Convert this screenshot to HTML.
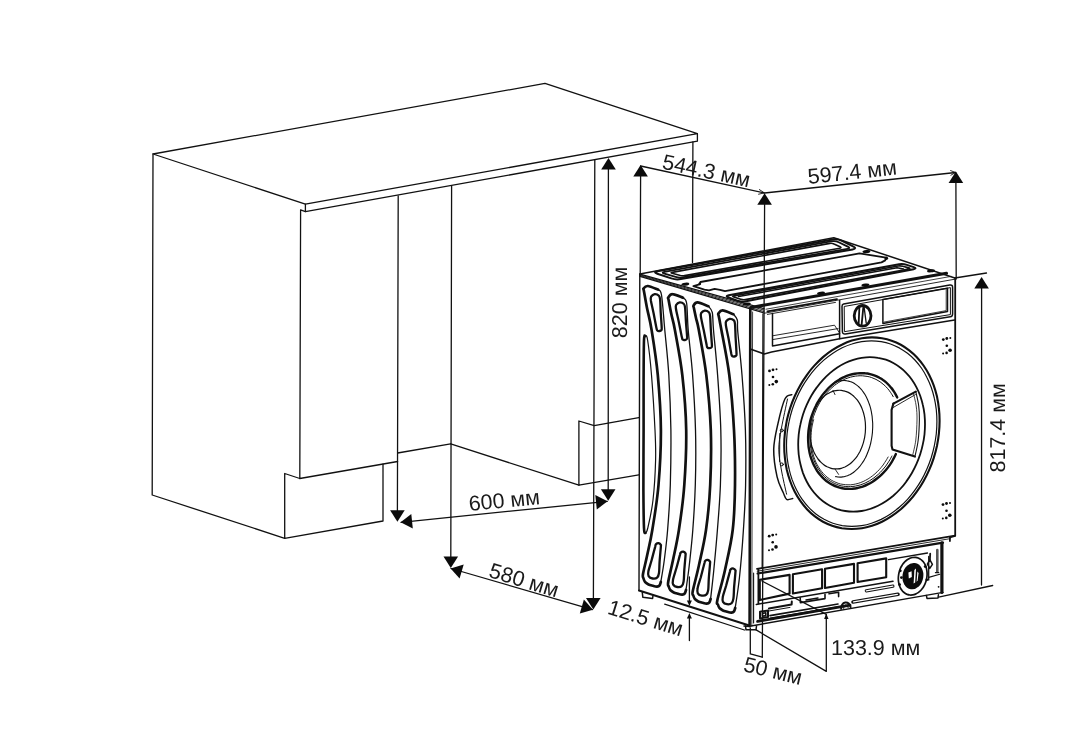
<!DOCTYPE html>
<html lang="ru"><head><meta charset="utf-8"><title>Размеры</title>
<style>
html,body{margin:0;padding:0;background:#fff;}
body{width:1082px;height:752px;overflow:hidden;font-family:"Liberation Sans",sans-serif;}
svg{display:block;filter:grayscale(1);}
svg path,svg ellipse,svg circle{fill:none;stroke:#111;stroke-linecap:round;stroke-linejoin:round;}
svg .fl{fill:#0b0b0e;stroke:none;}
svg .wh{fill:#fff;stroke:none;}
svg text{font-family:"Liberation Sans",sans-serif;fill:#1a1a1a;stroke:none;text-rendering:geometricPrecision;}
</style></head><body>
<svg width="1082" height="752" viewBox="0 0 1082 752">
<rect x="0" y="0" width="1082" height="752" class="wh"/>
<g id="cabinet">
<path d="M153 154 L545 83.4 L697.4 133.7 L305.4 204.1 Z" stroke-width="1.3"/>
<path d="M305.4 204.1 L305.4 211.6 L697.4 141.2 L697.4 133.7" stroke-width="1.3"/>
<path d="M153 154 L152.2 495 L284.7 538.3" stroke-width="1.3"/>
<path d="M299.8 478.5 L284.7 473.5 L284.7 538.3 L383 521 L383 464.2" stroke-width="1.3"/>
<path d="M305.4 211.6 L300.6 209.8 L299.8 478.5 L397.6 461.5" stroke-width="1.3"/>
<path d="M398.2 196 L397.4 511" stroke-width="1.3"/>
<path d="M397.6 453 L450.6 443.9" stroke-width="1.3"/>
<path d="M451.6 186 L450.8 557" stroke-width="1.3"/>
<path d="M450.7 443.9 L578.9 485.2" stroke-width="1.3"/>
<path d="M638.8 417.6 L594.2 425.7 L578.9 421 L578.9 485.2 L638.8 474.9" stroke-width="1.3"/>
<path d="M594.8 160 L593.4 598" stroke-width="1.3"/>
<path d="M608.4 169 L608.2 490" stroke-width="1.3"/>
<path d="M692.9 142 L692.5 262.5" stroke-width="1.3"/>
</g>
<g id="cabdims">
<path d="M608.5 158 L615.8 169.5 L601.2 169.5 Z" class="fl"/>
<path d="M608.2 500.8 L600.9 489.3 L615.5 489.3 Z" class="fl"/>
<path d="M397.4 521.8 L390.1 510.3 L404.7 510.3 Z" class="fl"/>
<path d="M450.8 568 L443.5 556.5 L458.1 556.5 Z" class="fl"/>
<path d="M593.3 609.4 L586 597.9 L600.6 597.9 Z" class="fl"/>
<path d="M401 522.3 L607.3 501.3" stroke-width="1.3"/>
<path d="M400.6 522.3 L411.3 513.9 L412.8 528.4 Z" class="fl"/>
<path d="M607.5 501.2 L596.8 509.6 L595.3 495.1 Z" class="fl"/>
<path d="M451 568.5 L592.4 609.6" stroke-width="1.3"/>
<path d="M450.6 568.4 L463.7 564.6 L459.6 578.6 Z" class="fl"/>
<path d="M592.9 609.8 L579.8 613.6 L583.9 599.6 Z" class="fl"/>
<text x="469.4" y="511" transform="rotate(-5.6 469.4 511)" font-size="21.5" text-anchor="start">600 мм</text>
<text x="487.8" y="576.8" transform="rotate(16.8 487.8 576.8)" font-size="21.5" text-anchor="start">580 мм</text>
<text x="626.9" y="338.2" transform="rotate(-90 626.9 338.2)" font-size="21.5" text-anchor="start">820 мм</text>
</g>
<g id="mdims">
<path d="M640.6 165 L647.9 176.5 L633.3 176.5 Z" class="fl"/>
<path d="M640.6 176 L640.2 276" stroke-width="1.3"/>
<path d="M640.6 166 L764.6 193 L955.7 172.5" stroke-width="1.3"/>
<path d="M764.6 193.3 L771.9 204.8 L757.3 204.8 Z" class="fl"/>
<path d="M759.4 189.6 L764.4 192.9 L758.6 194.2" stroke-width="0.9"/>
<path d="M950.6 170.6 L955.6 172.5 L950.9 175.2" stroke-width="0.9"/>
<path d="M764.6 204 L762.3 657.2" stroke-width="1.3"/>
<path d="M955.9 171.5 L963.2 183 L948.6 183 Z" class="fl"/>
<path d="M955.9 183 L956.2 279" stroke-width="1.3"/>
<path d="M954.8 278 L986.5 273" stroke-width="1.3"/>
<path d="M981.6 277 L988.9 288.5 L974.3 288.5 Z" class="fl"/>
<path d="M981.6 288 L981.5 585" stroke-width="1.3"/>
<path d="M938.6 597.2 L992.7 585.5" stroke-width="1.3"/>
<text x="661.2" y="168.4" transform="rotate(12.2 661.2 168.4)" font-size="21.5" text-anchor="start">544.3 мм</text>
<text x="808.5" y="184" transform="rotate(-6.1 808.5 184)" font-size="21.5" text-anchor="start">597.4 мм</text>
<text x="1004.7" y="472.5" transform="rotate(-90 1004.7 472.5)" font-size="21.5" text-anchor="start">817.4 мм</text>
<path d="M664.7 604.2 L744.4 630" stroke-width="1.3"/>
<path d="M689.4 577 L689.4 602" stroke-width="1.3"/>
<path d="M689.4 617 L689.4 640.5" stroke-width="1.3"/>
<path d="M689.4 606 L686.9 600.5 L691.9 600.5 Z" class="fl"/>
<path d="M689.4 613 L691.9 618.5 L686.9 618.5 Z" class="fl"/>
<text x="606.5" y="613.5" transform="rotate(17.3 606.5 613.5)" font-size="21.5" text-anchor="start">12.5 мм</text>
<path d="M750.3 628 L750.3 653.9 L762.3 657.2" stroke-width="1.3"/>
<text x="742.4" y="671" transform="rotate(13.6 742.4 671)" font-size="21.5" text-anchor="start">50 мм</text>
<path d="M761.9 581 L826.3 614.4" stroke-width="1.3"/>
<path d="M756.1 629.9 L826.3 671.4 L826.3 615" stroke-width="1.3"/>
<path d="M826.3 613.6 L828.5 619.1 L824.1 619.1 Z" class="fl"/>
<text x="831" y="655" transform="rotate(0 831 655)" font-size="21.5" text-anchor="start">133.9 мм</text>
</g>
<g id="machine">
<path d="M639.8 274 L639 590.5" stroke-width="1.4"/>
<path d="M639 590.5 L748.5 625.2" stroke-width="2"/>
<path d="M642.3 592.5 L642.8 597.2 L652.6 598.4 L653 595.5" stroke-width="1.5"/>
<path d="M750.3 308.8 L749.6 626" stroke-width="2.6"/>
<path d="M752.6 312 L751.8 626" stroke-width="0.8"/>
<path d="M658 289.6 C656.3 289 650.2 286.2 647.8 286 C645.4 285.8 644.2 287.7 643.6 288.5 C643 289.3 643.3 287.8 643.9 291 C644.5 294.2 645.7 301.5 647 308 C648.3 314.5 649.8 318.8 651.6 330 C653.4 341.2 656.2 358.3 657.8 375 C659.3 391.7 660.8 411.7 660.9 430 C661 448.3 659.9 468.3 658.5 485 C657.1 501.7 654.2 518.2 652.3 530 C650.4 541.8 648.5 548.7 647 556 C645.5 563.3 643.6 570.2 643 574 C642.4 577.8 643.1 577.1 643.5 578.5 C643.9 579.9 644.4 581.2 645.2 582.2 C646 583.2 647.2 583.8 648.5 584.4 C649.8 585 651.6 585.4 653 585.8 C654.4 586.2 655.9 586.7 657 586.6 C658.1 586.5 659 586.2 659.6 585.4 C660.2 584.6 660.6 582.6 660.8 582" stroke-width="2.7"/>
<path d="M658 289.6 C658.6 290.5 660.4 288.6 661.5 295 C662.6 301.4 663.4 314.7 664.6 328 C665.8 341.3 667.8 358 668.8 375 C669.8 392 670.6 411.7 670.9 430 C671.1 448.3 670.8 468.3 670.3 485 C669.8 501.7 668.6 517.5 667.6 530 C666.6 542.5 665.4 551.3 664.3 560 C663.2 568.7 661.4 578.3 660.8 582" stroke-width="1.3"/>
<path d="M683 297.8 C681.2 297.2 675 294.2 672.5 294.2 C670 294.1 669 296.5 668.3 297.5 C667.7 298.5 668.1 297.2 668.6 300 C669.1 302.8 670.2 309 671.3 314 C672.3 319 673.1 319.8 674.9 330 C676.7 340.2 680.4 358.3 682.3 375 C684.2 391.7 685.9 411.7 686.2 430 C686.5 448.3 685.5 468.3 684.3 485 C683.1 501.7 680.8 517.5 678.9 530 C677 542.5 674.8 551.3 673 560 C671.2 568.7 668.9 577.6 668.2 582 C667.5 586.4 668.3 585.1 668.7 586.5 C669.1 587.9 669.6 589.2 670.4 590.2 C671.2 591.2 672.4 591.8 673.7 592.4 C675 593 676.8 593.4 678.2 593.8 C679.6 594.2 681.1 594.7 682.2 594.6 C683.3 594.5 684.2 594.2 684.8 593.4 C685.4 592.6 685.8 590.6 686 590" stroke-width="2.7"/>
<path d="M683 297.8 C683.6 298.7 685.7 297.6 686.6 303 C687.5 308.4 687.2 318 688.2 330 C689.2 342 691.4 358.3 692.6 375 C693.8 391.7 695 411.7 695.5 430 C696 448.3 695.8 468.3 695.3 485 C694.8 501.7 693.8 516.7 692.8 530 C691.8 543.3 690.4 555 689.3 565 C688.2 575 686.5 585.8 686 590" stroke-width="1.3"/>
<path d="M708.4 306.2 C706.6 305.6 700.1 302.5 697.6 302.4 C695.1 302.3 694.2 304.6 693.6 305.5 C693 306.4 693.5 305.9 693.9 308 C694.3 310.1 695.2 314.3 696 318 C696.8 321.7 697.1 320.5 698.8 330 C700.5 339.5 704.3 358.3 706.3 375 C708.3 391.7 710.1 411.7 710.8 430 C711.4 448.3 711 468.3 710.2 485 C709.4 501.7 707.9 516.7 706 530 C704.1 543.3 701.2 554.8 699 565 C696.8 575.2 693.8 585.9 692.8 591 C691.8 596.1 692.9 594.1 693.3 595.5 C693.7 596.9 694.2 598.2 695 599.2 C695.8 600.2 697 600.8 698.3 601.4 C699.6 602 701.4 602.4 702.8 602.8 C704.2 603.2 705.7 603.7 706.8 603.6 C707.9 603.5 708.8 603.2 709.4 602.4 C710 601.6 710.4 599.6 710.6 599" stroke-width="2.7"/>
<path d="M708.4 306.2 C709 307.2 711.4 308.5 712.3 312.5 C713.1 316.5 712.6 319.6 713.5 330 C714.4 340.4 716.4 358.3 717.6 375 C718.8 391.7 720.3 411.7 720.8 430 C721.3 448.3 721 468.3 720.4 485 C719.8 501.7 718.5 515.8 717.4 530 C716.3 544.2 714.9 558.5 713.8 570 C712.7 581.5 711.1 594.2 710.6 599" stroke-width="1.3"/>
<path d="M733.4 314.2 C731.6 313.6 725.1 310.5 722.6 310.4 C720.1 310.3 719.1 312.6 718.4 313.5 C717.8 314.4 718.5 314.6 718.7 316 C719 317.4 719.5 319.7 719.9 322 C720.3 324.3 719.8 321.2 721.4 330 C723 338.8 727.2 358.3 729.3 375 C731.4 391.7 733 411.7 734 430 C735 448.3 735.2 468.3 735 485 C734.8 501.7 734.4 515.8 732.7 530 C731 544.2 727.5 558.3 725 570 C722.5 581.7 718.6 594.2 717.4 600 C716.2 605.8 717.5 603.1 717.9 604.5 C718.3 605.9 718.8 607.2 719.6 608.2 C720.4 609.2 721.6 609.8 722.9 610.4 C724.2 611 726 611.4 727.4 611.8 C728.8 612.2 730.3 612.7 731.4 612.6 C732.5 612.5 733.4 612.2 734 611.4 C734.6 610.6 735 608.6 735.2 608" stroke-width="2.7"/>
<path d="M733.4 314.2 C734 315.2 736.6 317 737.3 320 C738 323 737 322.8 737.8 332 C738.6 341.2 740.7 358.7 742 375 C743.3 391.3 744.8 411.7 745.4 430 C746 448.3 745.9 468.3 745.6 485 C745.3 501.7 744.4 514.5 743.4 530 C742.4 545.5 740.8 565 739.4 578 C738 591 735.9 603 735.2 608" stroke-width="1.3"/>
<path d="M654.7 294.1 C653.4 294.3 651.8 295.6 651.1 296.7 C650.5 297.8 650.5 297.9 650.9 300.7 C651.4 303.4 652.7 308.7 653.6 313.3 C654.5 317.9 655.9 325.4 656.5 328.2 C657.1 331.1 656.8 330 657.3 330.5 C657.8 331 658.8 331.1 659.5 331 C660.2 330.9 661.1 330.5 661.5 330 C661.8 329.4 661.8 330.5 661.7 327.6 C661.6 324.6 661 317 660.7 312.3 C660.5 307.7 660.4 302.3 660.1 299.5 C659.8 296.7 659.8 296.6 658.9 295.7 C658 294.8 656 294 654.7 294.1 Z" stroke-width="2.3"/>
<path d="M679.7 302.4 C678.4 302.6 676.8 303.9 676.1 305 C675.5 306.1 675.6 306.2 676 309 C676.4 311.8 677.8 317.2 678.8 321.9 C679.8 326.7 681.2 334.3 681.9 337.3 C682.6 340.2 682.2 339.1 682.7 339.5 C683.2 340 684.2 340.1 684.9 340 C685.6 339.9 686.5 339.5 686.9 338.9 C687.2 338.4 687.2 339.6 687.1 336.6 C686.9 333.6 686.2 325.8 685.9 321 C685.6 316.2 685.4 310.6 685.1 307.7 C684.8 304.9 684.8 304.8 683.9 304 C683 303.1 681 302.3 679.7 302.4 Z" stroke-width="2.3"/>
<path d="M704.7 310.6 C703.4 310.8 701.8 312.1 701.1 313.2 C700.5 314.3 700.5 314.4 701 317.2 C701.4 320 702.7 325.4 703.7 330.1 C704.6 334.8 706.1 342.4 706.7 345.3 C707.4 348.3 707 347.1 707.5 347.6 C708 348.1 709 348.2 709.7 348.1 C710.4 348 711.3 347.6 711.7 347.1 C712 346.5 712 347.7 711.9 344.7 C711.7 341.7 711.1 333.9 710.8 329.1 C710.5 324.3 710.4 318.8 710.1 316 C709.8 313.1 709.8 313.1 708.9 312.2 C708 311.3 706 310.5 704.7 310.6 Z" stroke-width="2.3"/>
<path d="M729.7 318.8 C728.5 319 726.8 320.3 726.1 321.4 C725.5 322.4 725.5 322.5 725.9 325.3 C726.3 328.2 727.6 333.6 728.5 338.3 C729.4 343.1 730.7 350.8 731.3 353.7 C732 356.7 731.6 355.5 732.1 356 C732.6 356.4 733.6 356.6 734.3 356.5 C735 356.4 735.9 356 736.3 355.5 C736.6 354.9 736.6 356.1 736.5 353.1 C736.4 350.1 735.9 342.3 735.6 337.5 C735.4 332.7 735.3 327.1 735 324.2 C734.7 321.4 734.8 321.3 733.9 320.4 C733 319.5 731 318.7 729.7 318.8 Z" stroke-width="2.3"/>
<path d="M658.6 543.2 C657.9 543.1 656.7 543.5 656.1 544.1 C655.5 544.6 656 543.6 655.3 546.3 C654.5 549 652.7 556.2 651.6 560.3 C650.4 564.5 648.9 568.6 648.4 571.2 C647.9 573.8 647.9 575 648.6 576.2 C649.3 577.4 651.2 578.3 652.6 578.5 C654 578.7 656.1 578.5 657.1 577.6 C658.2 576.7 658.6 575.7 659 573 C659.4 570.4 659.3 566 659.6 561.7 C659.9 557.4 660.6 550.1 660.8 547.3 C661 544.5 661.1 545.5 660.8 544.9 C660.4 544.2 659.4 543.4 658.6 543.2 Z" stroke-width="2.3"/>
<path d="M683.3 551.7 C682.6 551.6 681.4 552 680.8 552.6 C680.2 553.1 680.7 552.1 680 554.8 C679.2 557.5 677.4 564.7 676.2 568.8 C675 572.9 673.5 577 673 579.7 C672.5 582.3 672.5 583.4 673.2 584.7 C673.9 585.9 675.8 586.8 677.2 587 C678.6 587.2 680.7 587.1 681.7 586.1 C682.8 585.2 683.2 584.2 683.6 581.5 C684.1 578.9 684 574.5 684.3 570.2 C684.6 565.9 685.3 558.6 685.5 555.8 C685.7 553 685.8 554.1 685.5 553.4 C685.1 552.7 684.1 551.9 683.3 551.7 Z" stroke-width="2.3"/>
<path d="M707.8 559.9 C707.1 559.8 705.9 560.2 705.3 560.8 C704.7 561.3 705.2 560.3 704.5 563 C703.7 565.8 701.9 573 700.8 577.2 C699.6 581.4 698 585.6 697.6 588.3 C697.1 591 697.1 592.1 697.8 593.3 C698.5 594.5 700.4 595.4 701.8 595.6 C703.2 595.8 705.3 595.6 706.3 594.7 C707.4 593.8 707.8 592.8 708.2 590.1 C708.6 587.4 708.5 582.9 708.8 578.6 C709.1 574.2 709.8 566.8 710 564 C710.2 561.1 710.3 562.2 710 561.6 C709.6 560.9 708.6 560.1 707.8 559.9 Z" stroke-width="2.3"/>
<path d="M733.2 568.5 C732.5 568.4 731.3 568.8 730.7 569.4 C730.1 569.9 730.6 568.9 729.9 571.6 C729.1 574.4 727.2 581.6 726.1 585.8 C724.9 590 723.3 594.2 722.8 596.9 C722.3 599.6 722.3 600.6 723 601.9 C723.7 603.1 725.6 604 727 604.2 C728.4 604.4 730.5 604.3 731.5 603.3 C732.6 602.4 733 601.4 733.4 598.7 C733.9 596.1 733.8 591.6 734.1 587.2 C734.5 582.8 735.2 575.4 735.4 572.6 C735.6 569.8 735.7 570.9 735.4 570.2 C735 569.5 734 568.7 733.2 568.5 Z" stroke-width="2.3"/>
<path d="M645.4 336 C645.2 336.7 644.3 332.7 644 340 C643.7 347.3 643.7 365 643.6 380 C643.5 395 643.6 411.7 643.6 430 C643.6 448.3 643.3 473.7 643.4 490 C643.5 506.3 643.7 520.8 644 528 C644.3 535.2 645.2 532.2 645.4 533" stroke-width="2.6"/>
<path d="M645.4 336 C645.8 336.7 646.6 333.5 647.6 340 C648.6 346.5 650.3 360 651.5 375 C652.7 390 654.3 415.8 655 430 C655.7 444.2 655.9 448.3 655.6 460 C655.3 471.7 654.3 488.7 653 500 C651.7 511.3 649.1 522.5 647.8 528 C646.5 533.5 645.8 532.2 645.4 533" stroke-width="1.2"/>
</g>
<g id="lid">
<path d="M639.9 274 L833.8 237.7 L954.8 278" stroke-width="1.5"/>
<path d="M640 274.2 L764 308.6" stroke-width="1.3"/>
<path d="M640 274.9 L764 310.1" stroke-width="0.9"/>
<path d="M640 275.6 L764 311.6" stroke-width="0.9"/>
<path d="M640 276.3 L764 313" stroke-width="1.3"/>
<path d="M751 307.4 L946.5 273.3" stroke-width="3"/>
<path d="M764.5 313.2 L954.8 279.2" stroke-width="0.9"/>
<path d="M766 309.2 L951 276.4" stroke-width="0.8"/>
<path d="M657.3 273.7 Q652.6 272.1 657.5 271.2 L832.6 239.5 Q837.5 238.6 842 240.8 L853 246.3 Q857.5 248.5 852.6 249.4 L680.9 279.1 Q676 280 671.3 278.4 Z" stroke-width="2"/>
<path d="M664.4 273.6 Q661 272.5 664.5 271.9 L832 241.2 Q835.5 240.6 838.7 242.2 L847.8 246.6 Q851 248.2 847.5 248.8 L682.5 277.4 Q679 278 675.6 276.9 Z" stroke-width="1.8"/>
<path d="M672.1 273.3 Q670 272.8 672.2 272.4 L829.8 243.4 Q832 243 834 244 L840 246.8 Q842 247.8 839.8 248.2 L684.7 275.6 Q682.5 276 680.4 275.5 Z" stroke-width="1.6"/>
<path d="M693.4 286.2 L699.4 284.4 L700.4 282 L855.5 254.2 L859.5 253.4 L886 257.6 L885.2 260.4 L881.5 262.4 L725 291.2 L720 289.8 L714.6 288.8 L709 290.4 L704.4 289.6 L693.4 286.2" stroke-width="1.8"/>
<circle cx="699.8" cy="283.8" r="1.4" class="fl"/>
<circle cx="886.4" cy="258.2" r="1.7" class="fl"/>
<path d="M728.5 297.4 Q724.8 296 728.7 295.3 L899.1 264.3 Q903 263.6 906.8 264.9 L913.7 267.1 Q917.5 268.4 913.6 269.2 L744.9 301.4 Q741 302.2 737.3 300.8 Z" stroke-width="2"/>
<path d="M733.8 297 Q731.5 296.2 733.9 295.8 L898.1 266 Q900.5 265.6 902.8 266.3 L908.7 267.9 Q911 268.6 908.6 269 L745.4 299.6 Q743 300 740.7 299.2 Z" stroke-width="1.7"/>
<path d="M738.5 296.6 L897 267.8 L903.5 269" stroke-width="1.5"/>
<ellipse cx="685.3" cy="284.2" rx="4" ry="1.5" class="fl" transform="rotate(-6 685.3 284.2)"/>
<ellipse cx="746.8" cy="304" rx="4" ry="1.5" class="fl" transform="rotate(-6 746.8 304)"/>
<ellipse cx="866.4" cy="251.6" rx="4" ry="1.5" class="fl" transform="rotate(-6 866.4 251.6)"/>
<ellipse cx="931" cy="270.8" rx="4" ry="1.5" class="fl" transform="rotate(-6 931 270.8)"/>
<ellipse cx="865.4" cy="285" rx="4" ry="1.5" class="fl" transform="rotate(-6 865.4 285)"/>
<ellipse cx="821" cy="293.2" rx="4" ry="1.5" class="fl" transform="rotate(-6 821 293.2)"/>
</g>
<g id="front">
<path d="M955.2 278.5 L955.2 536 L949.9 537.3 L949.9 541" stroke-width="1.8"/>
<path d="M750.2 349 L764.3 354 L771.6 352 L839.6 338.8 L954.6 320" stroke-width="1.5"/>
<path d="M767.4 311.4 L837 299.2" stroke-width="1.8"/>
<path d="M767.4 314.4 L835.5 302.4" stroke-width="0.9"/>
<path d="M772.5 313.4 L772.5 345.9 L839.6 333.7" stroke-width="1.5"/>
<path d="M772.5 335.8 L834.5 325.2 L839.3 332.6" stroke-width="0.9"/>
<path d="M772.5 339.6 L838 328.6" stroke-width="0.9"/>
<path d="M839.6 300.6 L839.6 338.8" stroke-width="1.5"/>
<path d="M843.6 304.0 L949.8 285.0 Q952.6 284.6 952.6 287.4 L952.6 314.0 Q952.6 316.4 950.2 316.8 L845.4 334.0 Q842.4 334.4 842.4 331.4 L842.0 306.4 Q842.0 304.4 843.6 304.0 Z" stroke-width="1.5"/>
<path d="M844.6 306.4 L950.4 287.6 L950.4 314.6 L844.8 331.6 Z" stroke-width="1"/>
<path d="M882.9 299.6 L947.5 288.2 L947.5 311.6 L882.9 323.4 Z" stroke-width="1.5"/>
<path d="M884.4 322 L946.2 310.6 L946.2 289.6" stroke-width="0.8"/>
<ellipse cx="862.6" cy="315.8" rx="8.4" ry="10.3" stroke-width="2.8"/>
<path d="M859.4 307 L858.6 324.6" stroke-width="1.8"/>
<path d="M863.4 306.4 L861.6 325.2" stroke-width="1.8"/>
<path d="M864 306.4 L866.2 323" stroke-width="1.3"/>
<path d="M939.6 420.8 C939.6 424.9 939.4 429.1 938.9 433.3 C938.5 437.4 937.8 441.6 937 445.8 C936.1 449.9 935 454 933.7 458.1 C932.4 462.1 930.9 466.1 929.2 469.9 C927.5 473.8 925.6 477.6 923.5 481.2 C921.5 484.8 919.2 488.3 916.8 491.6 C914.5 494.9 911.9 498.1 909.2 501 C906.5 503.9 903.7 506.7 900.8 509.3 C897.8 511.8 894.8 514.1 891.6 516.2 C888.5 518.3 885.3 520.2 882 521.7 C878.7 523.3 875.4 524.7 872 525.8 C868.7 526.8 865.3 527.7 861.9 528.2 C858.5 528.7 855.1 529 851.8 529 C848.4 529 845.1 528.7 841.8 528.2 C838.5 527.6 835.3 526.8 832.2 525.7 C829 524.6 826 523.3 823 521.7 C820.1 520.1 817.3 518.2 814.6 516.1 C811.9 514 809.3 511.7 807 509.2 C804.6 506.6 802.3 503.8 800.3 500.9 C798.2 497.9 796.3 494.8 794.6 491.5 C792.9 488.2 791.4 484.7 790.1 481 C788.8 477.4 787.7 473.6 786.8 469.8 C786 465.9 785.3 462 784.9 457.9 C784.4 453.9 784.2 449.8 784.2 445.6 C784.2 441.5 784.4 437.3 784.9 433.1 C785.3 429 786 424.8 786.8 420.6 C787.7 416.5 788.8 412.4 790.1 408.3 C791.4 404.3 792.9 400.3 794.6 396.5 C796.3 392.6 798.2 388.8 800.3 385.2 C802.3 381.6 804.6 378.1 807 374.8 C809.3 371.5 811.9 368.3 814.6 365.4 C817.3 362.5 820.1 359.7 823 357.1 C826 354.6 829 352.3 832.2 350.2 C835.3 348.1 838.5 346.2 841.8 344.7 C845.1 343.1 848.4 341.7 851.8 340.6 C855.1 339.6 858.5 338.7 861.9 338.2 C865.3 337.7 868.7 337.4 872 337.4 C875.4 337.4 878.7 337.7 882 338.2 C885.3 338.8 888.5 339.6 891.6 340.7 C894.8 341.8 897.8 343.1 900.8 344.7 C903.7 346.3 906.5 348.2 909.2 350.3 C911.9 352.4 914.5 354.7 916.8 357.2 C919.2 359.8 921.5 362.6 923.5 365.5 C925.6 368.5 927.5 371.6 929.2 374.9 C930.9 378.2 932.4 381.7 933.7 385.4 C935 389 936.1 392.8 937 396.6 C937.8 400.5 938.5 404.4 938.9 408.5 C939.4 412.5 939.6 416.6 939.6 420.8 Z" stroke-width="2.1"/>
<path d="M936.9 421.6 C936.9 425.6 936.7 429.6 936.3 433.7 C935.8 437.7 935.2 441.8 934.3 445.8 C933.5 449.8 932.4 453.8 931.2 457.7 C929.9 461.6 928.5 465.5 926.8 469.2 C925.2 472.9 923.4 476.6 921.4 480.1 C919.4 483.6 917.2 486.9 914.9 490.1 C912.6 493.3 910.1 496.4 907.5 499.3 C904.9 502.1 902.1 504.8 899.3 507.3 C896.5 509.7 893.5 512 890.5 514 C887.5 516 884.3 517.8 881.2 519.4 C878 520.9 874.8 522.2 871.5 523.2 C868.3 524.3 865 525.1 861.7 525.6 C858.4 526.1 855.1 526.4 851.9 526.4 C848.6 526.4 845.4 526.1 842.2 525.6 C839.1 525 835.9 524.2 832.9 523.2 C829.9 522.2 826.9 520.8 824.1 519.3 C821.3 517.7 818.5 515.9 815.9 513.9 C813.3 511.9 810.8 509.6 808.5 507.2 C806.2 504.7 804 502 802 499.2 C800 496.3 798.2 493.2 796.6 490 C794.9 486.8 793.5 483.4 792.2 479.9 C791 476.4 789.9 472.8 789.1 469 C788.2 465.3 787.6 461.4 787.1 457.5 C786.7 453.6 786.5 449.6 786.5 445.6 C786.5 441.6 786.7 437.6 787.1 433.5 C787.6 429.5 788.2 425.4 789.1 421.4 C789.9 417.4 791 413.4 792.2 409.5 C793.5 405.6 794.9 401.7 796.6 398 C798.2 394.3 800 390.6 802 387.1 C804 383.6 806.2 380.3 808.5 377.1 C810.8 373.9 813.3 370.8 815.9 367.9 C818.5 365.1 821.3 362.4 824.1 359.9 C826.9 357.5 829.9 355.2 832.9 353.2 C835.9 351.2 839.1 349.4 842.2 347.8 C845.4 346.3 848.6 345 851.9 344 C855.1 342.9 858.4 342.1 861.7 341.6 C865 341.1 868.3 340.8 871.5 340.8 C874.8 340.8 878 341.1 881.2 341.6 C884.3 342.2 887.5 343 890.5 344 C893.5 345 896.5 346.4 899.3 347.9 C902.1 349.5 904.9 351.3 907.5 353.3 C910.1 355.3 912.6 357.6 914.9 360 C917.2 362.5 919.4 365.2 921.4 368 C923.4 370.9 925.2 374 926.8 377.2 C928.5 380.4 929.9 383.8 931.2 387.3 C932.4 390.8 933.5 394.4 934.3 398.2 C935.2 401.9 935.8 405.8 936.3 409.7 C936.7 413.6 936.9 417.6 936.9 421.6 Z" stroke-width="1.2"/>
<path d="M925 424.3 C925 427.6 924.8 431 924.5 434.3 C924.1 437.7 923.6 441.1 922.8 444.4 C922.1 447.8 921.2 451.1 920.2 454.3 C919.1 457.6 917.9 460.8 916.5 463.9 C915.1 467 913.6 470.1 911.9 473 C910.2 475.9 908.4 478.7 906.4 481.4 C904.5 484.1 902.4 486.6 900.2 489 C898 491.4 895.7 493.6 893.3 495.7 C890.9 497.7 888.4 499.6 885.9 501.3 C883.3 503 880.7 504.5 878 505.8 C875.3 507.1 872.6 508.1 869.9 509 C867.1 509.9 864.4 510.6 861.6 511 C858.8 511.4 856.1 511.7 853.3 511.7 C850.6 511.7 847.9 511.5 845.2 511 C842.5 510.6 839.9 509.9 837.3 509.1 C834.8 508.2 832.3 507.1 829.9 505.8 C827.5 504.5 825.2 503 823 501.3 C820.8 499.7 818.7 497.8 816.8 495.7 C814.8 493.7 813 491.5 811.3 489.1 C809.6 486.7 808.1 484.2 806.7 481.5 C805.3 478.8 804.1 476 803 473.1 C802 470.2 801.1 467.1 800.4 464 C799.6 460.9 799.1 457.7 798.7 454.5 C798.4 451.2 798.2 447.9 798.2 444.5 C798.2 441.2 798.4 437.8 798.7 434.5 C799.1 431.1 799.6 427.7 800.4 424.4 C801.1 421 802 417.7 803 414.5 C804.1 411.2 805.3 408 806.7 404.9 C808.1 401.8 809.6 398.7 811.3 395.8 C813 392.9 814.8 390.1 816.8 387.4 C818.7 384.7 820.8 382.2 823 379.8 C825.2 377.4 827.5 375.2 829.9 373.1 C832.3 371.1 834.8 369.2 837.3 367.5 C839.9 365.8 842.5 364.3 845.2 363 C847.9 361.7 850.6 360.7 853.3 359.8 C856.1 358.9 858.8 358.2 861.6 357.8 C864.4 357.4 867.1 357.1 869.9 357.1 C872.6 357.1 875.3 357.3 878 357.8 C880.7 358.2 883.3 358.9 885.9 359.7 C888.4 360.6 890.9 361.7 893.3 363 C895.7 364.3 898 365.8 900.2 367.5 C902.4 369.1 904.5 371 906.4 373.1 C908.4 375.1 910.2 377.3 911.9 379.7 C913.6 382.1 915.1 384.6 916.5 387.3 C917.9 390 919.1 392.8 920.2 395.7 C921.2 398.6 922.1 401.7 922.8 404.8 C923.6 407.9 924.1 411.1 924.5 414.3 C924.8 417.6 925 420.9 925 424.3 Z" stroke-width="1.8"/>
<path d="M895.9 454.1 C895.5 455 894.1 457.9 893 459.7 C892 461.6 890.9 463.4 889.7 465.1 C888.5 466.8 887.2 468.4 885.9 470 C884.6 471.5 883.2 473 881.8 474.4 C880.4 475.8 878.9 477.1 877.3 478.3 C875.8 479.5 874.2 480.7 872.6 481.7 C871 482.7 869.4 483.6 867.7 484.4 C866.1 485.3 864.4 486 862.7 486.6 C861 487.2 859.2 487.6 857.5 488 C855.8 488.4 854.1 488.6 852.3 488.8 C850.6 488.9 848.9 488.9 847.2 488.8 C845.5 488.8 843.8 488.5 842.2 488.2 C840.5 487.9 838.9 487.5 837.3 486.9 C835.7 486.4 834.1 485.7 832.6 484.9 C831.1 484.2 829.6 483.3 828.2 482.3 C826.8 481.4 825.5 480.3 824.2 479.1 C822.9 477.9 821.6 476.6 820.5 475.3 C819.3 473.9 818.2 472.5 817.2 471 C816.2 469.4 815.2 467.8 814.4 466.1 C813.5 464.5 812.7 462.7 812.1 460.9 C811.4 459.1 810.8 457.2 810.2 455.3 C809.7 453.4 809.3 451.4 809 449.4 C808.6 447.4 808.4 445.4 808.3 443.3 C808.1 441.3 808.1 439.2 808.1 437.1 C808.2 435 808.3 432.8 808.5 430.7 C808.8 428.6 809.1 426.5 809.5 424.4 C809.9 422.3 810.4 420.2 811 418.2 C811.6 416.1 812.3 414.1 813.1 412.1 C813.9 410.1 814.7 408.1 815.7 406.2 C816.6 404.3 817.6 402.4 818.7 400.7 C819.8 398.9 821 397.1 822.2 395.4 C823.4 393.8 824.7 392.2 826.1 390.7 C827.4 389.2 828.8 387.7 830.3 386.4 C831.8 385 833.3 383.8 834.8 382.6 C836.4 381.5 838 380.4 839.6 379.4 C841.2 378.5 842.9 377.6 844.6 376.9 C846.2 376.1 847.9 375.5 849.7 374.9 C851.4 374.4 853.1 374 854.8 373.7 C856.5 373.4 858.3 373.2 860 373.1 C861.7 373.1 863.4 373.1 865.1 373.3 C866.8 373.4 868.5 373.7 870.1 374.1 C871.7 374.5 873.4 375 874.9 375.6 C876.5 376.2 878 376.9 879.5 377.8 C881 378.6 882.4 379.5 883.8 380.6 C885.2 381.6 886.5 382.7 887.8 384 C889 385.2 890.2 386.5 891.3 387.9 C892.5 389.3 893.5 390.9 894.5 392.4 C895.5 394 896.7 396.5 897.2 397.4" stroke-width="2.4"/>
<path d="M891.9 456 C891.5 456.9 890.1 459.5 889 461.2 C888 462.8 886.9 464.5 885.8 466 C884.6 467.5 883.4 469 882.1 470.4 C880.8 471.8 879.5 473.2 878.2 474.4 C876.8 475.6 875.4 476.8 873.9 477.9 C872.5 478.9 871 479.9 869.5 480.8 C868 481.7 866.4 482.5 864.9 483.2 C863.3 483.9 861.7 484.5 860.1 485 C858.5 485.4 856.9 485.8 855.3 486.1 C853.7 486.4 852.1 486.6 850.5 486.6 C848.9 486.7 847.4 486.7 845.8 486.5 C844.2 486.4 842.7 486.1 841.1 485.8 C839.6 485.4 838.1 485 836.7 484.4 C835.2 483.8 833.8 483.2 832.4 482.4 C831 481.6 829.6 480.8 828.3 479.8 C827.1 478.9 825.8 477.8 824.6 476.7 C823.4 475.6 822.3 474.3 821.3 473 C820.2 471.7 819.2 470.3 818.3 468.9 C817.3 467.4 816.5 465.9 815.7 464.3 C814.9 462.7 814.2 461.1 813.6 459.4 C813 457.7 812.4 455.9 811.9 454.1 C811.5 452.3 811.1 450.4 810.8 448.5 C810.5 446.7 810.3 444.7 810.1 442.8 C810 440.9 810 438.9 810 436.9 C810.1 435 810.2 433 810.4 431 C810.6 429 810.9 427 811.3 425 C811.7 423.1 812.1 421.1 812.7 419.2 C813.2 417.3 813.9 415.3 814.6 413.5 C815.3 411.6 816.1 409.7 816.9 407.9 C817.8 406.1 818.7 404.4 819.7 402.7 C820.7 401 821.7 399.3 822.9 397.7 C824 396.2 825.2 394.6 826.4 393.2 C827.6 391.8 828.9 390.4 830.3 389.1 C831.6 387.8 833 386.6 834.4 385.5 C835.9 384.4 837.3 383.3 838.8 382.4 C840.3 381.4 841.8 380.6 843.4 379.8 C844.9 379.1 846.5 378.4 848.1 377.9 C849.7 377.3 851.3 376.9 852.9 376.6 C854.5 376.2 856.1 376 857.7 375.9 C859.3 375.7 860.9 375.7 862.5 375.8 C864 375.9 865.6 376.1 867.1 376.4 C868.7 376.6 870.2 377 871.7 377.6 C873.2 378.1 874.6 378.7 876 379.4 C877.4 380.1 878.8 380.9 880.1 381.8 C881.4 382.7 882.7 383.7 883.9 384.8 C885.1 385.8 886.3 387 887.4 388.3 C888.5 389.5 889.5 390.9 890.5 392.3 C891.5 393.7 892.8 396 893.2 396.7" stroke-width="1"/>
<path d="M888.1 457 C887.8 457.5 887 458.9 886.5 459.8 C886 460.7 885.4 461.6 884.8 462.4 C884.3 463.3 883.7 464.1 883.1 465 C882.4 465.8 881.8 466.6 881.2 467.4 C880.5 468.2 879.9 468.9 879.2 469.7 C878.5 470.4 877.8 471.1 877.1 471.8 C876.4 472.5 875.7 473.2 875 473.8 C874.2 474.5 873.5 475.1 872.7 475.7 C872 476.3 871.2 476.9 870.4 477.4 C869.6 477.9 868.8 478.5 868.1 478.9 C867.3 479.4 866.5 479.9 865.6 480.3 C864.8 480.7 864 481.1 863.2 481.5 C862.4 481.9 861.5 482.2 860.7 482.5 C859.9 482.8 859 483.1 858.2 483.4 C857.3 483.6 856.5 483.8 855.6 484 C854.8 484.2 854 484.4 853.1 484.5 C852.3 484.6 851.4 484.7 850.6 484.8 C849.7 484.8 848.9 484.8 848 484.8 C847.2 484.8 846.4 484.8 845.5 484.7 C844.7 484.7 843.9 484.6 843.1 484.4 C842.2 484.3 841.4 484.1 840.6 484 C839.8 483.8 839 483.5 838.2 483.3 C837.4 483 836.6 482.7 835.9 482.4 C835.1 482.1 834.3 481.8 833.6 481.4 C832.9 481 832.1 480.6 831.4 480.2 C830.7 479.7 830 479.3 829.3 478.8 C828.6 478.3 827.9 477.8 827.2 477.2 C826.6 476.7 825.9 476.1 825.3 475.5 C824.6 474.9 824 474.3 823.4 473.6 C822.8 473 822.3 472.3 821.7 471.6 C821.1 470.9 820.6 470.2 820.1 469.5 C819.5 468.7 819 467.9 818.6 467.2 C818.1 466.4 817.6 465.6 817.2 464.7 C816.7 463.9 816.3 463 815.9 462.2 C815.5 461.3 815.2 460.4 814.8 459.5 C814.5 458.6 814.1 457.7 813.8 456.8 C813.5 455.8 813.2 454.9 813 453.9 C812.7 452.9 812.5 452 812.3 451 C812.1 450 811.9 449 811.7 448 C811.6 447 811.5 446 811.3 444.9 C811.2 443.9 811.2 442.9 811.1 441.8 C811 440.8 811 439.7 811 438.7 C811 437.6 811 436.6 811.1 435.5 C811.1 434.5 811.2 433.4 811.3 432.3 C811.4 431.3 811.5 430.2 811.6 429.1 C811.8 428.1 811.9 427 812.1 426 C812.3 424.9 812.5 423.9 812.8 422.8 C813 421.8 813.4 420.2 813.6 419.7" stroke-width="0.9"/>
<path d="M865.5 427.4 C865.5 429.1 865.4 430.8 865.3 432.5 C865.1 434.2 864.9 435.9 864.6 437.6 C864.2 439.3 863.8 441 863.4 442.6 C862.9 444.2 862.4 445.8 861.8 447.3 C861.2 448.9 860.5 450.3 859.8 451.8 C859 453.2 858.2 454.5 857.4 455.8 C856.5 457.1 855.6 458.3 854.6 459.4 C853.7 460.5 852.6 461.6 851.6 462.5 C850.6 463.5 849.5 464.3 848.3 465.1 C847.2 465.8 846.1 466.4 844.9 467 C843.7 467.5 842.5 468 841.3 468.3 C840.1 468.6 838.9 468.8 837.7 468.9 C836.5 469 835.3 469 834.1 468.9 C832.9 468.7 831.7 468.5 830.5 468.1 C829.3 467.8 828.2 467.3 827.1 466.8 C825.9 466.2 824.8 465.5 823.8 464.7 C822.8 464 821.7 463.1 820.8 462.1 C819.8 461.2 818.9 460.1 818 459 C817.2 457.8 816.4 456.6 815.6 455.3 C814.9 454 814.2 452.6 813.6 451.2 C813 449.7 812.5 448.2 812 446.7 C811.6 445.2 811.2 443.5 810.8 441.9 C810.5 440.3 810.3 438.6 810.1 436.9 C810 435.3 809.9 433.5 809.9 431.8 C809.9 430.1 810 428.4 810.1 426.7 C810.3 425 810.5 423.3 810.8 421.6 C811.2 419.9 811.6 418.2 812 416.6 C812.5 415 813 413.4 813.6 411.9 C814.2 410.3 814.9 408.9 815.6 407.4 C816.4 406 817.2 404.7 818 403.4 C818.9 402.1 819.8 400.9 820.8 399.8 C821.7 398.7 822.8 397.6 823.8 396.7 C824.8 395.7 825.9 394.9 827.1 394.1 C828.2 393.4 829.3 392.8 830.5 392.2 C831.7 391.7 832.9 391.2 834.1 390.9 C835.3 390.6 836.5 390.4 837.7 390.3 C838.9 390.2 840.1 390.2 841.3 390.3 C842.5 390.5 843.7 390.7 844.9 391.1 C846.1 391.4 847.2 391.9 848.3 392.4 C849.5 393 850.6 393.7 851.6 394.5 C852.6 395.2 853.7 396.1 854.6 397.1 C855.6 398 856.5 399.1 857.4 400.2 C858.2 401.4 859 402.6 859.8 403.9 C860.5 405.2 861.2 406.6 861.8 408 C862.4 409.5 862.9 411 863.4 412.5 C863.8 414 864.2 415.7 864.6 417.3 C864.9 418.9 865.1 420.6 865.3 422.3 C865.4 423.9 865.5 425.7 865.5 427.4 Z" stroke-width="1.2"/>
<path d="M832.5 383.9 C832.9 383.7 834 383 834.8 382.7 C835.5 382.3 836.3 382 837.1 381.7 C837.8 381.4 838.6 381.2 839.4 381 C840.2 380.8 841 380.7 841.7 380.6 C842.5 380.5 843.3 380.5 844.1 380.5 C844.9 380.5 845.6 380.6 846.4 380.7 C847.2 380.8 847.9 380.9 848.7 381.1 C849.5 381.3 850.2 381.6 851 381.8 C851.7 382.1 852.5 382.5 853.2 382.8 C853.9 383.2 854.6 383.6 855.3 384.1 C856 384.6 856.7 385.1 857.4 385.6 C858.1 386.2 858.7 386.8 859.4 387.4 C860 388 860.7 388.7 861.3 389.4 C861.9 390.1 862.5 390.9 863 391.7 C863.6 392.5 864.2 393.3 864.7 394.1 C865.2 395 865.7 395.9 866.2 396.8 C866.7 397.7 867.1 398.7 867.6 399.7 C868 400.6 868.4 401.6 868.8 402.7 C869.2 403.7 869.5 404.8 869.9 405.9 C870.2 406.9 870.5 408 870.8 409.2 C871 410.3 871.3 411.4 871.5 412.6 C871.7 413.7 871.9 414.9 872.1 416.1 C872.2 417.3 872.3 418.5 872.4 419.7 C872.5 420.9 872.6 422.1 872.7 423.3 C872.7 424.6 872.7 425.8 872.7 427 C872.7 428.2 872.6 429.5 872.5 430.7 C872.5 431.9 872.4 433.2 872.2 434.4 C872.1 435.6 871.9 436.8 871.7 438 C871.5 439.2 871.3 440.4 871 441.6 C870.8 442.8 870.5 444 870.2 445.1 C869.9 446.3 869.6 447.4 869.2 448.5 C868.8 449.7 868.4 450.8 868 451.8 C867.6 452.9 867.2 454 866.7 455 C866.3 456 865.8 457.1 865.3 458 C864.7 459 864.2 460 863.7 460.9 C863.1 461.8 862.5 462.7 861.9 463.5 C861.3 464.4 860.7 465.2 860.1 466 C859.5 466.8 858.8 467.5 858.2 468.2 C857.5 468.9 856.8 469.6 856.1 470.2 C855.4 470.9 854.7 471.5 854 472 C853.3 472.6 852.5 473.1 851.8 473.5 C851.1 474 850.3 474.4 849.6 474.8 C848.8 475.2 848 475.5 847.3 475.8 C846.5 476.1 845.7 476.3 844.9 476.5 C844.2 476.7 843.4 476.8 842.6 476.9 C841.8 477 841 477.1 840.3 477.1 C839.5 477.1 838.7 477.1 837.9 477 C837.2 476.9 836 476.6 835.6 476.6" stroke-width="1.1"/>
<path d="M833 390.4 L835 394.6" stroke-width="0.9"/>
<path d="M835 469 L838.6 474.4" stroke-width="0.9"/>
<path d="M893.4 403.6 L915.8 391.6" stroke-width="2.2"/>
<path d="M893 407.6 L915.4 394.6" stroke-width="0.9"/>
<path d="M893.4 403.6 L891.6 409.9 L891.6 445.8 L892.5 449.4 L914.9 456.6" stroke-width="2.1"/>
<path d="M915.8 391.6 C916.3 393.8 918 400.4 918.6 405 C919.2 409.6 919.5 413.2 919.4 419 C919.3 424.8 919 433.7 918.2 440 C917.5 446.3 915.5 453.8 914.9 456.6" stroke-width="1.1"/>
<path d="M913.4 393.4 C913.9 395.5 915.6 401.6 916.2 406 C916.8 410.4 917.1 414.3 917 420 C916.9 425.7 916.5 434.1 915.8 440 C915.1 445.9 913.1 453 912.6 455.6" stroke-width="0.8"/>
<path d="M791.8 394.7 C790.6 395.4 787.2 394.2 784.9 399 C782.6 403.8 779.9 414.9 778 423.3 C776.1 431.7 773.9 440.3 773.7 449.2 C773.6 458.1 775.5 469.7 777.1 476.9 C778.7 484.1 781.6 488.8 783.2 492.5 C784.8 496.2 785 498.4 786.6 499.4 C788.2 500.4 791.7 498.6 792.7 498.5" stroke-width="1.5"/>
<path d="M787.5 399 C786.5 403.9 782.9 420 781.4 428.4 C779.9 436.8 778.8 442.3 778.8 449.2 C778.8 456.1 780.1 462.5 781.4 470 C782.7 477.5 785.7 490.2 786.6 494.2" stroke-width="1"/>
<path d="M779.8 433.5 L779.6 461.5" stroke-width="1"/>
<circle cx="781.8" cy="430.4" r="1.5" stroke-width="1"/>
<circle cx="781.8" cy="464.4" r="1.5" stroke-width="1"/>
<circle cx="769.5" cy="370.9" r="1.4" class="fl"/>
<circle cx="773" cy="369.8" r="1.4" class="fl"/>
<circle cx="776.5" cy="369.3" r="1" class="fl"/>
<circle cx="773" cy="377" r="1.3" class="fl"/>
<circle cx="769.3" cy="384.9" r="1" class="fl"/>
<circle cx="772.8" cy="384.2" r="1.3" class="fl"/>
<circle cx="776.3" cy="381.6" r="1.8" class="fl"/>
<path d="M762.9 313.8 L762.1 568.2" stroke-width="1.1"/>
<circle cx="943.3" cy="339.6" r="1.4" class="fl"/>
<circle cx="946.8" cy="338.5" r="1.4" class="fl"/>
<circle cx="950.3" cy="338" r="1" class="fl"/>
<circle cx="946.8" cy="345.7" r="1.3" class="fl"/>
<circle cx="943.1" cy="353.6" r="1" class="fl"/>
<circle cx="946.6" cy="352.9" r="1.3" class="fl"/>
<circle cx="950.1" cy="350.3" r="1.8" class="fl"/>
<circle cx="769.2" cy="536.2" r="1.4" class="fl"/>
<circle cx="772.7" cy="535.1" r="1.4" class="fl"/>
<circle cx="776.2" cy="534.6" r="1" class="fl"/>
<circle cx="772.7" cy="542.3" r="1.3" class="fl"/>
<circle cx="769" cy="550.2" r="1" class="fl"/>
<circle cx="772.5" cy="549.5" r="1.3" class="fl"/>
<circle cx="776" cy="546.9" r="1.8" class="fl"/>
<circle cx="943" cy="504.6" r="1.4" class="fl"/>
<circle cx="946.5" cy="503.5" r="1.4" class="fl"/>
<circle cx="950" cy="503" r="1" class="fl"/>
<circle cx="946.5" cy="510.7" r="1.3" class="fl"/>
<circle cx="942.8" cy="518.6" r="1" class="fl"/>
<circle cx="946.3" cy="517.9" r="1.3" class="fl"/>
<circle cx="949.8" cy="515.3" r="1.8" class="fl"/>
<path d="M757 568.9 L955 535.6" stroke-width="1.8"/>
<path d="M757.2 571.2 L950.4 538.6" stroke-width="0.9"/>
<path d="M757.6 573.5 L943 542.7" stroke-width="2.2"/>
<path d="M758.4 569.5 L758.4 603.4" stroke-width="1.8"/>
<path d="M753.6 573 L753.6 623" stroke-width="1.1"/>
<path d="M759.8 579.8 L789.6 574.9 L789.6 593.6 L759.8 600 Z" stroke-width="2.1"/>
<path d="M792.9 574.2 L822.1 569.3 L822.1 588.2 L792.9 593.5 Z" stroke-width="2.1"/>
<path d="M825 568.8 L854 563.9 L854 582.8 L825 588 Z" stroke-width="2.1"/>
<path d="M857.6 563.3 L886.2 558.4 L886.2 577.2 L857.6 582 Z" stroke-width="2.1"/>
<path d="M888.4 559.6 L927.5 553" stroke-width="1.3"/>
<path d="M756.3 604.4 L893 581.2" stroke-width="1.5"/>
<path d="M768.9 608.6 L791.6 604.6 L791.8 601.6" stroke-width="2"/>
<path d="M768.9 611 L790 607.4" stroke-width="1"/>
<path d="M800.2 597.8 L800.4 602.6 L825 598.6 L825 594.4" stroke-width="1.6"/>
<path d="M806 600 L818 598" stroke-width="1.4"/>
<path d="M829 593.8 L838.6 592.2 L838.6 596.6" stroke-width="1.6"/>
<path d="M770 615.6 L838 604" stroke-width="1.6"/>
<path d="M770 618.2 L838 606.8" stroke-width="1.2"/>
<path d="M866.3 590.8 L892.9 586.2" stroke-width="3.2"/>
<path d="M866.3 590.8 L892.9 586.2" stroke-width="1.2" style="stroke:#fff"/>
<path d="M853 602 L898 594.2" stroke-width="3.6"/>
<path d="M853.6 601.9 L897.4 594.3" stroke-width="1.2" style="stroke:#fff"/>
<path d="M757.6 621.4 L850 605.2" stroke-width="2.8"/>
<path d="M749.5 626.2 L943 592.4" stroke-width="1.4"/>
<path d="M841.2 608.8 A4.6 5.4 0 0 1 850.6 607.2" stroke-width="2"/>
<path d="M843.6 608.4 A2.2 2.8 0 0 1 848.2 607.6" stroke-width="1"/>
<path d="M760 611.8 L768 610.4 L768 617 L760 618.4 Z" stroke-width="2"/>
<path d="M762.4 613.4 L765.8 612.8 L765.8 615.6 L762.4 616.2 Z" stroke-width="1.6"/>
<path d="M927.1 573.9 C927.1 575.1 927 576.4 926.8 577.6 C926.6 578.8 926.4 580 926 581.2 C925.6 582.4 925.2 583.6 924.7 584.7 C924.2 585.8 923.5 586.8 922.9 587.8 C922.2 588.8 921.5 589.7 920.7 590.5 C919.9 591.3 919.1 592 918.2 592.6 C917.3 593.2 916.4 593.7 915.5 594.1 C914.6 594.5 913.6 594.8 912.7 594.9 C911.8 595 910.8 595.1 909.9 595 C909 594.9 908.1 594.7 907.2 594.4 C906.3 594 905.5 593.6 904.7 593 C903.9 592.5 903.2 591.8 902.5 591.1 C901.9 590.3 901.2 589.4 900.7 588.5 C900.2 587.6 899.8 586.6 899.4 585.5 C899 584.4 898.8 583.3 898.6 582.1 C898.4 580.9 898.3 579.7 898.3 578.5 C898.3 577.3 898.4 576 898.6 574.8 C898.8 573.6 899 572.4 899.4 571.2 C899.8 570 900.2 568.8 900.7 567.7 C901.2 566.6 901.9 565.6 902.5 564.6 C903.2 563.6 903.9 562.7 904.7 561.9 C905.5 561.1 906.3 560.4 907.2 559.8 C908.1 559.2 909 558.7 909.9 558.3 C910.8 557.9 911.8 557.6 912.7 557.5 C913.6 557.4 914.6 557.3 915.5 557.4 C916.4 557.5 917.3 557.7 918.2 558 C919.1 558.4 919.9 558.8 920.7 559.4 C921.5 559.9 922.2 560.6 922.9 561.3 C923.5 562.1 924.2 563 924.7 563.9 C925.2 564.8 925.6 565.8 926 566.9 C926.4 568 926.6 569.1 926.8 570.3 C927 571.5 927.1 572.7 927.1 573.9 Z" stroke-width="1.7"/>
<ellipse cx="912.9" cy="576.1" rx="10.4" ry="13.2" class="fl" transform="rotate(9 912.9 576.1)"/>
<path d="M908.4 572.6 L911.6 571.2 L911.8 577.0 L908.8 578.6 Z" class="wh"/>
<path d="M914.4 570.0 L916.0 568.6 L915.2 582.6 L913.6 583.6 Z" class="wh"/>
<path d="M917.4 571.6 L918.6 573.0 L917.6 580.4 L916.6 581.8 Z" class="wh"/>
<circle cx="900.3" cy="570.8" r="1.4" class="fl"/>
<circle cx="925.2" cy="566.6" r="1.4" class="fl"/>
<circle cx="926.8" cy="579.8" r="1.4" class="fl"/>
<circle cx="899.6" cy="584.6" r="1.4" class="fl"/>
<circle cx="901.4" cy="577.6" r="1.4" class="fl"/>
<path d="M941.9 542.8 L941.9 592.4" stroke-width="3.2"/>
<path d="M937.3 550 L937.3 571.8" stroke-width="2.6" style="stroke:#555"/>
<path d="M935.4 572.6 L938.8 572.6" stroke-width="1.2"/>
<path d="M928.7 556.4 L928.7 580" stroke-width="1.3"/>
<path d="M928.7 577.4 L939.8 574.3" stroke-width="1.1"/>
<path d="M930.2 553.6 L929.9 559.6" stroke-width="1.8"/>
<path d="M929.8 559.6 L932.4 564.4 L929.8 568.4 L927.4 564.2 Z" stroke-width="1.5"/>
<circle cx="938.6" cy="586.8" r="0.9" class="fl"/>
<path d="M745.5 626 L746 629.8 L756 629.8 L756.5 626" stroke-width="1.5"/>
<path d="M744 626 L749.5 626.4" stroke-width="1.5"/>
<path d="M926.4 595.6 L927 598.4 L938 598 L938.4 594.8" stroke-width="1.5"/>
</g>
</svg>
</body></html>
